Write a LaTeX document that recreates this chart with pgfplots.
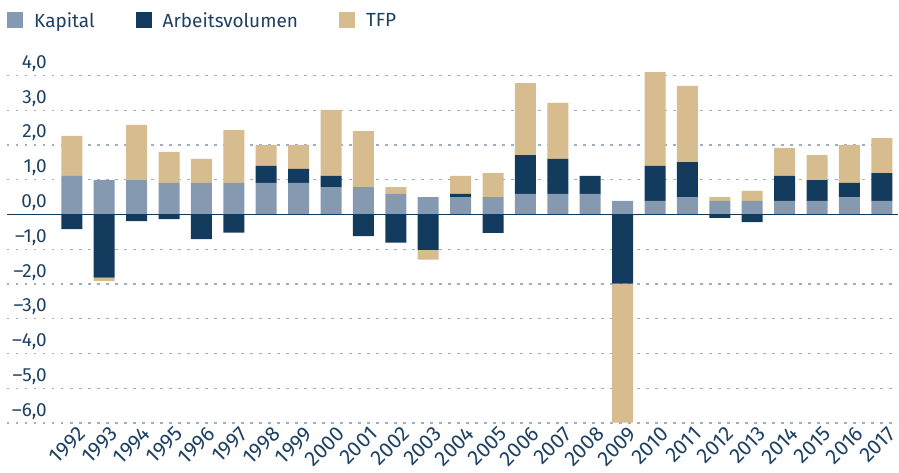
\documentclass[border=0pt]{standalone}
\usepackage{pgfplots}
\pgfplotsset{compat=1.18}
\usepackage{pgfplotstable}
\usepackage{fontspec}
\setmainfont{Fira Sans}
\definecolor{kap}{HTML}{8599B1}
\definecolor{arb}{HTML}{123B5E}
\definecolor{tfp}{HTML}{D7BC8F}
\definecolor{txt}{HTML}{1D4063}
\definecolor{grd}{HTML}{9FAFC3}

\pgfplotstableread{
idx K Ap Tp An Tn
0 1.11 0 1.15 -0.42 0
1 0.99 0 0 -1.82 -0.09
2 0.99 0 1.59 -0.19 0
3 0.91 0 0.89 -0.13 0
4 0.91 0 0.69 -0.71 0
5 0.91 0 1.52 -0.52 0
6 0.91 0.49 0.60 0 0
7 0.91 0.40 0.69 0 0
8 0.79 0.32 1.90 0 0
9 0.79 0 1.61 -0.62 0
10 0.59 0 0.20 -0.81 0
11 0.50 0 0 -1.02 -0.28
12 0.50 0.09 0.52 0 0
13 0.50 0 0.69 -0.53 0
14 0.59 1.12 2.07 0 0
15 0.59 1.01 1.61 0 0
16 0.59 0.52 0 0 0
17 0.39 0 0 -1.99 -4.00
18 0.39 1.01 2.70 0 0
19 0.50 1.01 2.19 0 0
20 0.39 0 0.11 -0.10 0
21 0.39 0 0.29 -0.22 0
22 0.39 0.72 0.80 0 0
23 0.39 0.60 0.72 0 0
24 0.50 0.41 1.09 0 0
25 0.39 0.80 1.01 0 0
}\data

\pgfplotsset{common/.style={
  at={(0pt,0pt)}, anchor=south west, scale only axis,
  width=891pt, height=354.45pt,
  xmin=-2, xmax=25.5, ymin=-6, ymax=4.2,
  ybar stacked, bar width=21pt,
  axis line style={draw=none}, major tick length=0pt, tick style={draw=none},
  clip=false,
  legend image code/.code={\fill[##1] (0pt,-8pt) rectangle (16pt,8pt);},
}}

\begin{document}
\begin{tikzpicture}[font=\fontsize{19}{23}\selectfont]
\path[use as bounding box] (-7pt,-49pt) rectangle (892pt,423pt);
\begin{axis}[common,
  ymajorgrids, major grid style={grd, line width=1.3pt, dash pattern=on 2.5pt off 6.5pt},
  ytick={-6,-5,-4,-3,-2,-1,0,1,2,3,4},
  yticklabels={{–6,0},{–5,0},{–4,0},{–3,0},{–2,0},{–1,0},{0,0},{1,0},{2,0},{3,0},{4,0}},
  yticklabel style={anchor=base east, inner sep=0pt, xshift=40pt, yshift=7pt, text=txt, font=\fontsize{19}{23}\selectfont},
  xtick={0,...,25},
  xticklabels={1992,1993,1994,1995,1996,1997,1998,1999,2000,2001,2002,2003,2004,2005,2006,2007,2008,2009,2010,2011,2012,2013,2014,2015,2016,2017},
  xticklabel style={rotate=45, anchor=north east, inner sep=0pt, xshift=2pt, yshift=-5pt, text=txt, font=\fontsize{21}{25}\selectfont},
  legend columns=3,
  legend style={at={(axis description cs:0,1.1652)}, anchor=north west, draw=none, fill=none, inner sep=0pt,
    font=\fontsize{19}{23}\selectfont, text=txt,
    /tikz/every odd column/.append style={column sep=9pt},
    /tikz/every even column/.append style={column sep=39pt}},
  legend cell align=left,
]
\addplot[fill=kap, draw=none] table[x=idx, y=K] {\data};
\addplot[fill=arb, draw=none] table[x=idx, y=Ap] {\data};
\addplot[fill=tfp, draw=none] table[x=idx, y=Tp] {\data};
\legend{Kapital, Arbeitsvolumen, TFP}
\end{axis}
\begin{axis}[common, xtick=\empty, ytick=\empty]
\addplot[fill=arb, draw=none] table[x=idx, y=An] {\data};
\addplot[fill=tfp, draw=none] table[x=idx, y=Tn] {\data};
\draw[arb, line width=1.5pt] (axis cs:-2,0) -- (axis cs:25.5,0);
\end{axis}
\end{tikzpicture}
\end{document}
